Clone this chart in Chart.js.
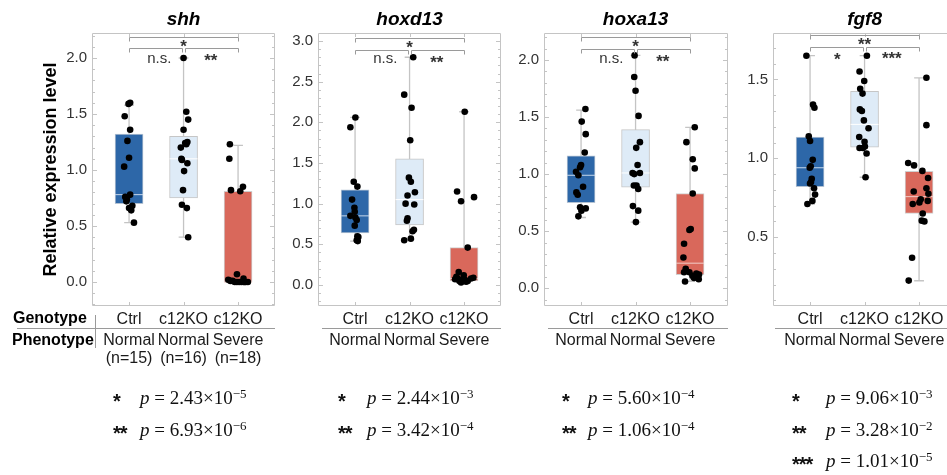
<!DOCTYPE html>
<html><head><meta charset="utf-8">
<script src="https://cdn.jsdelivr.net/npm/chart.js@4.4.1/dist/chart.umd.min.js"></script>
<style>
html,body{margin:0;padding:0;background:#fff}
body{width:947px;height:475px;overflow:hidden;position:relative;font-family:'Liberation Sans',Arial,sans-serif}
canvas.cv{position:absolute;top:0}
.pv{position:absolute;white-space:nowrap;font-family:'Liberation Serif','Times New Roman',serif;font-size:19px;line-height:20px;color:#111}
.pv .st{position:absolute;left:0;top:3px;font-family:'Liberation Sans',Arial,sans-serif;font-size:20px;font-weight:bold;letter-spacing:-1px}
.pv .fm{position:absolute;top:0}
.pv .sup{font-size:13px;position:relative;top:-6px}
</style></head>
<body>
<canvas class="cv" id="cv0" width="280" height="475" style="left:0px"></canvas>
<canvas class="cv" id="cv1" width="225" height="475" style="left:280px"></canvas>
<canvas class="cv" id="cv2" width="228" height="475" style="left:505px"></canvas>
<canvas class="cv" id="cv3" width="240" height="475" style="left:733px"></canvas>
<div id="pvals"></div>
<script>
// ---------- DATA ----------
const genes = ['shh', 'hoxd13', 'hoxa13', 'fgf8'];
const genotypes = ['Ctrl', 'c12KO', 'c12KO'];
const phenotypes = ['Normal', 'Normal', 'Severe'];
const groupSizes = ['(n=15)', '(n=16)', '(n=18)'];
const yAxisTitle = 'Relative expression level';

// shh
const shhCtrl = [1.60, 1.59, 1.48, 1.36, 1.26, 1.11, 1.03, 0.78, 0.76, 0.74, 0.72, 0.68, 0.66, 0.64, 0.53];
const shhCtrlJit = [0.02, -0.01, -0.08, 0.02, -0.03, 0.0, -0.09, 0.02, -0.07, -0.04, -0.05, 0.06, 0.0, 0.04, 0.09];
const shhNormal = [2.00, 1.52, 1.45, 1.36, 1.25, 1.24, 1.23, 1.20, 1.10, 1.09, 1.06, 0.99, 0.82, 0.69, 0.66, 0.40];
const shhNormalJit = [0.0, 0.05, 0.085, 0.0, 0.07, 0.03, 0.05, -0.05, -0.04, -0.03, 0.07, 0.01, -0.01, -0.03, 0.06, 0.085];
const shhSevere = [1.23, 1.10, 0.85, 0.82, 0.81, 0.07, 0.03, 0.02, 0.01, 0.01, 0.0, 0.0, 0.0, 0.0, 0.0, 0.0, 0.0, 0.0];
const shhSevereJit = [-0.15, -0.16, 0.09, -0.13, 0.04, -0.02, 0.10, -0.18, -0.14, -0.10, -0.06, -0.02, 0.02, 0.06, 0.10, 0.14, 0.18, 0.12];
const shhQ1 = [0.70, 0.75, 0.00], shhMed = [0.78, 1.10, 0.00], shhQ3 = [1.32, 1.30, 0.81];
const shhLo = [0.53, 0.40, 0.00], shhHi = [1.58, 2.00, 1.22];
const shhTicks = [0.0, 0.5, 1.0, 1.5, 2.0];
const shhRange = [-0.214, 2.223];
const shhSig = ['*', 'n.s.', '**'];
const shhP = [['*', 2.43, -5], ['**', 6.93, -6]];

// hoxd13
const hoxd13Ctrl = [2.06, 1.94, 1.27, 1.21, 1.05, 0.95, 0.90, 0.85, 0.83, 0.80, 0.73, 0.60, 0.59, 0.55, 0.54];
const hoxd13CtrlJit = [0.006, -0.086, -0.024, 0.043, -0.055, -0.012, -0.006, -0.086, 0.006, 0.03, -0.006, 0.043, 0.06, 0.03, 0.05];
const hoxd13Normal = [2.80, 2.34, 2.18, 1.78, 1.32, 1.27, 1.14, 1.10, 1.00, 0.99, 0.82, 0.79, 0.68, 0.66, 0.55, 0.57];
const hoxd13NormalJit = [0.067, -0.098, 0.037, 0.012, -0.012, 0.024, 0.098, -0.037, -0.073, 0.086, -0.037, -0.049, 0.08, 0.055, -0.098, 0.024];
const hoxd13Severe = [2.13, 1.15, 1.08, 1.03, 0.46, 0.16, 0.12, 0.10, 0.08, 0.08, 0.09, 0.07, 0.07, 0.06, 0.05, 0.05, 0.04, 0.03];
const hoxd13SevereJit = [0.012, -0.128, 0.183, -0.055, 0.067, -0.098, -0.006, -0.141, -0.116, 0.128, 0.171, 0.006, -0.165, -0.043, 0.067, -0.086, 0.037, -0.055];
const hoxd13Q1 = [0.64, 0.74, 0.05], hoxd13Med = [0.85, 1.05, 0.08], hoxd13Q3 = [1.17, 1.55, 0.46];
const hoxd13Lo = [0.54, 0.56, 0.03], hoxd13Hi = [2.06, 2.80, 2.13];
const hoxd13Ticks = [0.0, 0.5, 1.0, 1.5, 2.0, 2.5, 3.0];
const hoxd13Range = [-0.258, 3.098];
const hoxd13Sig = ['*', 'n.s.', '**'];
const hoxd13P = [['*', 2.44, -3], ['**', 3.42, -4]];

// hoxa13
const hoxa13Ctrl = [1.57, 1.46, 1.35, 1.19, 1.08, 1.06, 1.02, 0.99, 0.89, 0.84, 0.82, 0.71, 0.70, 0.68, 0.63];
const hoxa13CtrlJit = [0.08, 0.012, 0.086, 0.067, 0.0, -0.018, -0.092, -0.049, 0.037, -0.086, -0.061, -0.018, 0.086, 0.006, -0.049];
const hoxa13Normal = [2.04, 1.85, 1.73, 1.51, 1.28, 1.23, 1.08, 1.01, 1.00, 1.01, 0.90, 0.90, 0.87, 0.72, 0.68, 0.58];
const hoxa13NormalJit = [-0.018, -0.024, 0.0, 0.055, 0.08, 0.012, 0.037, -0.055, -0.024, 0.08, -0.031, 0.018, 0.049, -0.049, 0.049, 0.006];
const hoxa13Severe = [1.41, 1.28, 1.13, 1.05, 0.83, 0.52, 0.51, 0.39, 0.27, 0.17, 0.14, 0.14, 0.13, 0.12, 0.11, 0.09, 0.08, 0.06];
const hoxa13SevereJit = [0.086, -0.067, 0.049, 0.086, 0.049, 0.012, -0.012, -0.11, -0.122, -0.08, -0.11, -0.012, 0.116, 0.165, 0.043, 0.073, 0.159, -0.092];
const hoxa13Q1 = [0.75, 0.885, 0.12], hoxa13Med = [0.99, 1.01, 0.22], hoxa13Q3 = [1.16, 1.39, 0.83];
const hoxa13Lo = [0.62, 0.58, 0.06], hoxa13Hi = [1.56, 2.04, 1.41];
const hoxa13Ticks = [0.0, 0.5, 1.0, 1.5, 2.0];
const hoxa13Range = [-0.155, 2.236];
const hoxa13Sig = ['*', 'n.s.', '**'];
const hoxa13P = [['*', 5.60, -4], ['**', 1.06, -4]];

// fgf8
const fgf8Ctrl = [1.65, 1.34, 1.32, 1.14, 1.11, 0.99, 0.95, 0.94, 0.87, 0.85, 0.84, 0.81, 0.77, 0.73, 0.71];
const fgf8CtrlJit = [-0.067, 0.055, 0.08, -0.024, 0.0, 0.049, 0.012, -0.006, 0.031, 0.018, 0.0, 0.073, 0.092, 0.043, -0.049];
const fgf8Normal = [1.65, 1.55, 1.49, 1.44, 1.41, 1.31, 1.30, 1.24, 1.19, 1.135, 1.105, 1.065, 1.065, 1.075, 1.03, 0.88];
const fgf8NormalJit = [0.043, -0.092, -0.006, -0.08, -0.037, -0.086, -0.049, -0.012, 0.073, -0.098, 0.0, -0.092, -0.031, 0.006, 0.037, 0.018];
const fgf8Severe = [1.51, 1.21, 0.97, 0.955, 0.92, 0.875, 0.81, 0.79, 0.775, 0.74, 0.73, 0.72, 0.71, 0.65, 0.605, 0.60, 0.37, 0.225];
const fgf8SevereJit = [0.135, 0.135, -0.2, -0.092, 0.061, 0.165, 0.135, -0.098, 0.171, 0.031, 0.159, 0.006, -0.116, 0.067, 0.049, 0.098, -0.128, -0.19];
const fgf8Q1 = [0.82, 1.07, 0.65], fgf8Med = [0.94, 1.215, 0.757], fgf8Q3 = [1.135, 1.425, 0.918];
const fgf8Lo = [0.71, 0.88, 0.224], fgf8Hi = [1.65, 1.65, 1.51];
const fgf8Ticks = [0.5, 1.0, 1.5];
const fgf8Range = [0.064, 1.794];
const fgf8Sig = ['**', '*', '***'];
const fgf8P = [['*', 9.06, -3], ['**', 3.28, -2], ['***', 1.01, -5]];

// ---------- STYLE / LAYOUT ----------
const boxFill = ['#2d67a8', '#deebf7', '#d9685b'];
const boxEdge = ['#b4c2d2', '#c6c6c6', '#cfcfcf'];
const medColor = ['#c6d7ea', '#ffffff', '#f2cdc8'];
const PXU = 54.5; // pixels per category unit
const panels = [
  {id: 'cv0', plotLeft: 92, plotRight: 275, br: [4, 15], lab: [42, 63, 56], lineStart: 17, pvStar: 113, pvP: 140,
   vals: [shhCtrl, shhNormal, shhSevere], jit: [shhCtrlJit, shhNormalJit, shhSevereJit],
   q1: shhQ1, med: shhMed, q3: shhQ3, lo: shhLo, hi: shhHi, ticks: shhTicks, range: shhRange, sig: shhSig, p: shhP},
  {id: 'cv1', plotLeft: 38, plotRight: 221, br: [5, 17], lab: [43, 63, 58], lineStart: 42, pvStar: 58, pvP: 87,
   vals: [hoxd13Ctrl, hoxd13Normal, hoxd13Severe], jit: [hoxd13CtrlJit, hoxd13NormalJit, hoxd13SevereJit],
   q1: hoxd13Q1, med: hoxd13Med, q3: hoxd13Q3, lo: hoxd13Lo, hi: hoxd13Hi, ticks: hoxd13Ticks, range: hoxd13Range, sig: hoxd13Sig, p: hoxd13P},
  {id: 'cv2', plotLeft: 39, plotRight: 223, br: [4, 16], lab: [42, 63, 57], lineStart: 43, pvStar: 57, pvP: 83,
   vals: [hoxa13Ctrl, hoxa13Normal, hoxa13Severe], jit: [hoxa13CtrlJit, hoxa13NormalJit, hoxa13SevereJit],
   q1: hoxa13Q1, med: hoxa13Med, q3: hoxa13Q3, lo: hoxa13Lo, hi: hoxa13Hi, ticks: hoxa13Ticks, range: hoxa13Range, sig: hoxa13Sig, p: hoxa13P},
  {id: 'cv3', plotLeft: 40, plotRight: 225, br: [2, 14], lab: [40, 55, 54], lineStart: 42, pvStar: 59, pvP: 93,
   vals: [fgf8Ctrl, fgf8Normal, fgf8Severe], jit: [fgf8CtrlJit, fgf8NormalJit, fgf8SevereJit],
   q1: fgf8Q1, med: fgf8Med, q3: fgf8Q3, lo: fgf8Lo, hi: fgf8Hi, ticks: fgf8Ticks, range: fgf8Range, sig: fgf8Sig, p: fgf8P}
];
const canvasLefts = [0, 280, 505, 733];
const TOP = 33, BOTTOM = 306, H = 475;

function makeDeco(P, idx) {
  return {
    id: 'deco' + idx,
    beforeDatasetsDraw(chart) {
      const {ctx, chartArea: a, scales: {x, y}} = chart;
      ctx.save();
      ctx.strokeStyle = '#c4c4c4';
      ctx.lineWidth = 1;
      ctx.beginPath();
      ctx.rect(a.left + 0.5, a.top + 0.5, a.right - a.left - 1, a.bottom - a.top - 1);
      for (let k = Math.ceil(y.min * 10 - 1e-6); k <= Math.floor(y.max * 10 + 1e-6); k++) {
        const py = Math.round(y.getPixelForValue(k / 10)) + 0.5;
        const len = (k % 5 === 0) ? 5 : 3;
        ctx.moveTo(a.left, py); ctx.lineTo(a.left + len, py);
        ctx.moveTo(a.right - len, py); ctx.lineTo(a.right, py);
      }
      for (let g = 0; g < 3; g++) {
        const px = Math.round(x.getPixelForValue(g)) + 0.5;
        ctx.moveTo(px, a.bottom); ctx.lineTo(px, a.bottom - 4);
        ctx.moveTo(px, a.top); ctx.lineTo(px, a.top + 4);
      }
      ctx.stroke();
      ctx.restore();
    },
    afterDatasetsDraw(chart) {
      const {ctx, chartArea: a, scales: {x, y}} = chart;
      const x0 = x.getPixelForValue(0), x1 = x.getPixelForValue(1), x2 = x.getPixelForValue(2);
      ctx.save();
      // brackets
      ctx.strokeStyle = '#9a9a9a';
      ctx.lineWidth = 1;
      const yo = a.top + P.br[0] + 0.5, yi = a.top + P.br[1] + 0.5;
      const br = (xa, xb, yy) => { ctx.moveTo(xa, yy + 4); ctx.lineTo(xa, yy); ctx.lineTo(xb, yy); ctx.lineTo(xb, yy + 4); };
      ctx.beginPath();
      br(Math.round(x0) + 0.5, Math.round(x2) + 0.5, yo);
      br(Math.round(x0) + 0.5, Math.round(x1) - 1.5, yi);
      br(Math.round(x1) + 1.5, Math.round(x2) + 0.5, yi);
      ctx.stroke();
      // significance labels
      ctx.fillStyle = '#333';
      ctx.textAlign = 'center';
      ctx.textBaseline = 'alphabetic';
      const lbl = (t, cx, cy) => {
        if (t === 'n.s.') {
          ctx.font = '15px "Liberation Sans", Arial, sans-serif';
          ctx.fillText(t, cx + 3, cy);
        } else {
          ctx.font = 'bold 17px "Liberation Sans", Arial, sans-serif';
          ctx.fillText(t, cx, cy + 10);
        }
      };
      lbl(P.sig[0], x1, P.lab[0]);
      lbl(P.sig[1], (x0 + x1) / 2, P.lab[1]);
      lbl(P.sig[2], (x1 + x2) / 2, P.lab[2]);
      // gene title
      ctx.fillStyle = '#000';
      ctx.font = 'italic bold 19px "Liberation Sans", Arial, sans-serif';
      ctx.fillText(genes[idx], x1, 25);
      // genotype / phenotype rows
      ctx.fillStyle = '#1a1a1a';
      ctx.font = '16px "Liberation Sans", Arial, sans-serif';
      for (let g = 0; g < 3; g++) {
        const px = x.getPixelForValue(g);
        ctx.fillText(genotypes[g], px, 324);
        ctx.fillText(phenotypes[g], px, 345);
        if (idx === 0) ctx.fillText(groupSizes[g], px, 363);
      }
      ctx.strokeStyle = '#9a9a9a';
      ctx.beginPath();
      ctx.moveTo(P.lineStart, 328.5); ctx.lineTo(a.right, 328.5);
      if (idx === 0) { ctx.moveTo(95.5, 315); ctx.lineTo(95.5, 348); }
      ctx.stroke();
      if (idx === 0) {
        ctx.fillStyle = '#000';
        ctx.textAlign = 'left';
        ctx.font = 'bold 16px "Liberation Sans", Arial, sans-serif';
        ctx.fillText('Genotype', 13, 323);
        ctx.fillText('Phenotype', 12, 345);
        ctx.save();
        ctx.translate(56, (a.top + a.bottom) / 2);
        ctx.rotate(-Math.PI / 2);
        ctx.textAlign = 'center';
        ctx.font = 'bold 18px "Liberation Sans", Arial, sans-serif';
        ctx.fillText(yAxisTitle, 0, 0);
        ctx.restore();
      }
      ctx.restore();
    }
  };
}

function buildChart(P, idx) {
  const canvas = document.getElementById(P.id);
  const W = canvas.width;
  const xmin = -0.68, xmax = -0.68 + (P.plotRight - P.plotLeft) / PXU;
  const cap = 0.09, half = 14 / PXU;
  const whisk = [];
  for (let g = 0; g < 3; g++) {
    whisk.push({x: g, y: P.lo[g]}, {x: g, y: P.hi[g]}, {x: g, y: null});
    whisk.push({x: g - cap, y: P.hi[g]}, {x: g + cap, y: P.hi[g]}, {x: g, y: null});
    whisk.push({x: g - cap, y: P.lo[g]}, {x: g + cap, y: P.lo[g]}, {x: g, y: null});
  }
  const datasets = [
    {type: 'line', data: whisk, borderColor: '#c4c4c4', borderWidth: 1.3, pointRadius: 0, spanGaps: false, order: 4, tension: 0},
    {type: 'bar', data: [0, 1, 2].map(g => ({x: g, y: [P.q1[g], P.q3[g]]})), backgroundColor: boxFill,
     borderColor: boxEdge, borderWidth: 1, borderSkipped: false, barThickness: 28, grouped: false, order: 3}
  ];
  for (let g = 0; g < 3; g++) {
    datasets.push({type: 'line', data: [{x: g - half, y: P.med[g]}, {x: g + half, y: P.med[g]}],
      borderColor: medColor[g], borderWidth: 1, pointRadius: 0, order: 2, tension: 0});
  }
  for (let g = 0; g < 3; g++) {
    datasets.push({type: 'scatter', data: P.vals[g].map((v, k) => ({x: g + P.jit[g][k], y: v})),
      backgroundColor: '#000', borderWidth: 0, pointRadius: 3.3, order: 1});
  }
  return new Chart(canvas, {
    type: 'bar',
    data: {datasets},
    options: {
      responsive: false, animation: false, devicePixelRatio: 1,
      layout: {padding: {left: 0, right: W - P.plotRight, top: TOP, bottom: H - BOTTOM}},
      plugins: {legend: {display: false}, tooltip: {enabled: false}},
      scales: {
        x: {type: 'linear', min: xmin, max: xmax, offset: false, display: false},
        y: {type: 'linear', min: P.range[0], max: P.range[1],
            afterFit: s => { s.width = P.plotLeft; },
            afterBuildTicks: s => { s.ticks = P.ticks.map(v => ({value: v})); },
            grid: {display: false, drawTicks: false}, border: {display: false},
            ticks: {padding: 5, color: '#333', font: {family: '"Liberation Sans", Arial, sans-serif', size: 15},
                    callback: v => Number(v).toFixed(1)}}
      }
    },
    plugins: [makeDeco(P, idx)]
  });
}

panels.forEach((P, i) => buildChart(P, i));

// p-value keys
const pv = document.getElementById('pvals');
const rowTops = [388, 420, 451];
panels.forEach((P, i) => {
  P.p.forEach((row, r) => {
    const d = document.createElement('div');
    d.className = 'pv';
    d.style.left = (canvasLefts[i] + P.pvStar) + 'px';
    d.style.top = rowTops[r] + 'px';
    const exp = String(row[2]).replace('-', '\u2212');
    d.innerHTML = '<span class="st">' + row[0] + '</span><span class="fm" style="left:' + (P.pvP - P.pvStar) +
      'px"><i>p</i> = ' + row[1].toFixed(2) + '\u00d710<span class="sup">' + exp + '</span></span>';
    pv.appendChild(d);
  });
});
</script>
</body></html>
